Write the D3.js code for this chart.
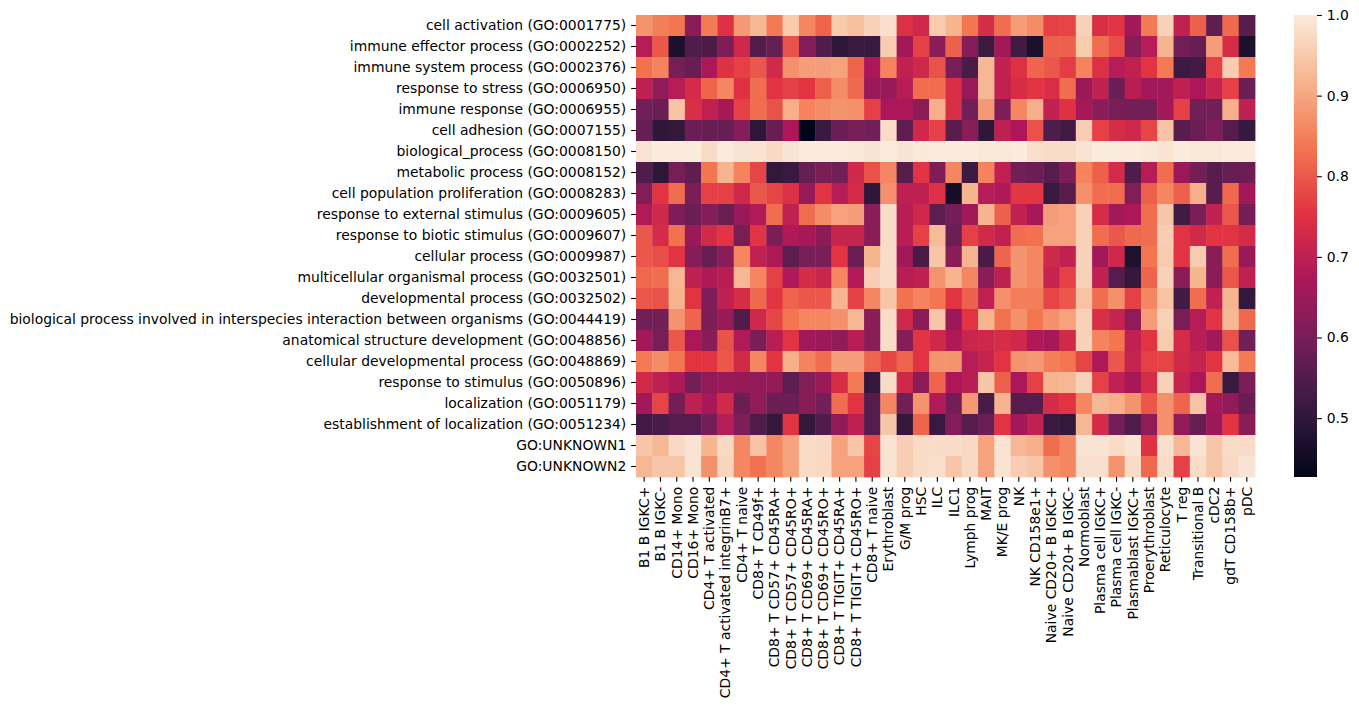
<!DOCTYPE html>
<html>
<head>
<meta charset="utf-8">
<script src="https://cdn.jsdelivr.net/npm/d3@7"></script>
<style>
  body { margin: 0; background: #fff; }
  text { font-family: "DejaVu Sans", sans-serif; font-size: 13.9px; fill: #000; }
</style>
</head>
<body>
<div id="chart"></div>
<script>
var terms = [
  "cell activation (GO:0001775)",
  "immune effector process (GO:0002252)",
  "immune system process (GO:0002376)",
  "response to stress (GO:0006950)",
  "immune response (GO:0006955)",
  "cell adhesion (GO:0007155)",
  "biological_process (GO:0008150)",
  "metabolic process (GO:0008152)",
  "cell population proliferation (GO:0008283)",
  "response to external stimulus (GO:0009605)",
  "response to biotic stimulus (GO:0009607)",
  "cellular process (GO:0009987)",
  "multicellular organismal process (GO:0032501)",
  "developmental process (GO:0032502)",
  "biological process involved in interspecies interaction between organisms (GO:0044419)",
  "anatomical structure development (GO:0048856)",
  "cellular developmental process (GO:0048869)",
  "response to stimulus (GO:0050896)",
  "localization (GO:0051179)",
  "establishment of localization (GO:0051234)",
  "GO:UNKNOWN1",
  "GO:UNKNOWN2"
];

var cellTypes = [
  "B1 B IGKC+", "B1 B IGKC-", "CD14+ Mono", "CD16+ Mono", "CD4+ T activated",
  "CD4+ T activated integrinB7+", "CD4+ T naive", "CD8+ T CD49f+",
  "CD8+ T CD57+ CD45RA+", "CD8+ T CD57+ CD45RO+", "CD8+ T CD69+ CD45RA+",
  "CD8+ T CD69+ CD45RO+", "CD8+ T TIGIT+ CD45RA+", "CD8+ T TIGIT+ CD45RO+",
  "CD8+ T naive", "Erythroblast", "G/M prog", "HSC", "ILC", "ILC1", "Lymph prog",
  "MAIT", "MK/E prog", "NK", "NK CD158e1+", "Naive CD20+ B IGKC+",
  "Naive CD20+ B IGKC-", "Normoblast", "Plasma cell IGKC+", "Plasma cell IGKC-",
  "Plasmablast IGKC+", "Proerythroblast", "Reticulocyte", "T reg",
  "Transitional B", "cDC2", "gdT CD158b+", "pDC"
];

// one array per GO term, in cellTypes order
var cellActivation = [.876,.848,.836,.625,.842,.75,.882,.923,.842,.951,.859,.814,.951,.934,.962,.984,.746,.724,.951,.918,.836,.737,.825,.888,.865,.77,.776,.962,.741,.754,.659,.842,.962,.703,.809,.568,.82,.559];
var immuneEffector = [.686,.798,.47,.546,.541,.61,.724,.55,.577,.792,.615,.546,.50,.514,.514,.956,.659,.77,.625,.809,.62,.519,.659,.523,.47,.809,.809,.951,.825,.787,.62,.686,.918,.596,.577,.888,.737,.47];
var immuneSystem = [.831,.853,.60,.577,.673,.75,.77,.798,.728,.871,.888,.888,.894,.814,.673,.853,.703,.724,.792,.60,.537,.923,.703,.746,.814,.798,.765,.853,.746,.686,.703,.754,.842,.519,.528,.77,.956,.842];
var responseStress = [.699,.635,.686,.732,.814,.859,.75,.825,.754,.77,.754,.809,.865,.82,.644,.644,.686,.825,.825,.741,.644,.923,.703,.737,.754,.741,.825,.649,.703,.582,.69,.659,.659,.699,.673,.711,.77,.582];
var immuneResponse = [.591,.582,.94,.741,.703,.664,.77,.825,.792,.912,.853,.865,.876,.871,.77,.673,.673,.625,.912,.741,.591,.882,.61,.859,.912,.703,.75,.664,.625,.60,.596,.591,.659,.77,.591,.591,.912,.699];
var cellAdhesion = [.577,.50,.505,.582,.577,.577,.62,.495,.577,.673,.427,.514,.582,.60,.591,.978,.568,.724,.77,.559,.625,.50,.699,.673,.792,.546,.523,.956,.77,.737,.724,.776,.94,.559,.582,.61,.555,.51];
var biologicalProcess = [.989,1,1,1,.978,1,.989,.989,.973,.989,1,1,1,.995,.989,1,.989,.995,1,1,1,.995,.995,1,.984,.978,.978,.989,1,1,1,.995,.989,1,.995,.995,1,1];
var metabolic = [.546,.495,.60,.568,.836,.918,.853,.776,.505,.514,.577,.605,.591,.724,.792,.859,.555,.754,.61,.859,.519,.853,.703,.591,.582,.555,.605,.853,.809,.732,.546,.686,.825,.649,.596,.559,.577,.582];
var proliferation = [.615,.754,.825,.605,.77,.77,.724,.798,.776,.746,.644,.754,.686,.732,.50,.871,.699,.699,.746,.46,.918,.686,.677,.759,.759,.514,.559,.871,.825,.825,.615,.809,.859,.809,.912,.559,.82,.659];
var externalStimulus = [.681,.724,.61,.582,.62,.582,.644,.681,.825,.703,.825,.865,.894,.888,.625,.978,.69,.724,.564,.596,.659,.918,.809,.703,.664,.888,.894,.962,.737,.659,.673,.825,.945,.523,.605,.703,.798,.596];
var bioticStimulus = [.798,.732,.831,.649,.728,.754,.60,.754,.605,.677,.664,.63,.711,.711,.625,.978,.69,.77,.929,.582,.77,.728,.703,.825,.831,.894,.894,.962,.825,.798,.82,.825,.956,.754,.728,.754,.754,.732];
var cellularProcess = [.798,.787,.754,.62,.577,.625,.859,.703,.677,.564,.60,.605,.754,.582,.918,.978,.659,.537,.945,.625,.918,.537,.814,.876,.859,.724,.703,.962,.659,.724,.475,.836,.951,.754,.951,.625,.825,.644];
var multicellular = [.82,.825,.923,.699,.677,.69,.923,.859,.77,.677,.732,.715,.859,.681,.956,.978,.69,.699,.876,.918,.859,.625,.699,.876,.859,.711,.77,.962,.703,.555,.505,.814,.962,.625,.918,.625,.798,.703];
var developmental = [.798,.792,.918,.754,.61,.699,.737,.82,.754,.814,.798,.798,.918,.77,.859,.945,.831,.853,.836,.754,.809,.703,.871,.848,.848,.776,.798,.94,.825,.871,.77,.859,.94,.528,.825,.703,.918,.505];
var interspecies = [.591,.591,.876,.814,.605,.644,.546,.724,.776,.836,.859,.859,.871,.923,.625,.978,.724,.625,.945,.649,.754,.918,.831,.871,.836,.871,.894,.962,.741,.711,.635,.888,.962,.60,.686,.754,.923,.82];
var anatomical = [.659,.60,.798,.673,.62,.792,.681,.605,.69,.754,.659,.649,.635,.69,.625,.978,.62,.754,.724,.677,.715,.724,.737,.724,.677,.664,.728,.962,.853,.836,.703,.754,.951,.732,.69,.659,.792,.591];
var cellularDevelopmental = [.842,.865,.836,.754,.754,.798,.728,.859,.754,.912,.853,.825,.888,.888,.814,.776,.814,.754,.876,.876,.686,.711,.754,.876,.882,.848,.836,.776,.677,.798,.711,.77,.776,.728,.711,.754,.929,.842];
var responseStimulus = [.728,.699,.677,.596,.635,.649,.64,.635,.64,.564,.615,.649,.737,.842,.505,.978,.724,.625,.814,.673,.69,.945,.809,.673,.77,.918,.923,.962,.77,.703,.664,.737,.962,.711,.673,.825,.514,.605];
var localization = [.659,.776,.596,.699,.664,.728,.582,.635,.582,.582,.62,.596,.825,.754,.555,.859,.591,.876,.681,.596,.882,.537,.918,.555,.555,.732,.754,.859,.923,.912,.876,.798,.871,.814,.94,.659,.635,.577];
var establishment = [.528,.537,.555,.555,.596,.686,.61,.546,.505,.754,.505,.546,.635,.699,.555,.945,.505,.814,.514,.615,.555,.582,.754,.659,.703,.514,.505,.923,.732,.596,.546,.635,.871,.635,.577,.649,.754,.625];
var unknown1 = [.945,.923,.973,.989,.918,.973,.859,.94,.859,.894,.978,.973,.894,.945,.776,.989,.956,.978,.978,.978,.973,.894,.989,.923,.912,.825,.859,.989,.989,.978,.989,.75,.984,.923,.989,.945,.978,.978];
var unknown2 = [.923,.945,.945,.989,.871,.967,.859,.831,.859,.894,.978,.973,.894,.894,.77,.989,.956,.978,.984,.945,.973,.894,.989,.956,.945,.871,.859,.984,.984,.876,.978,.82,.978,.77,.978,.945,.973,.989];

var values = [cellActivation, immuneEffector, immuneSystem, responseStress, immuneResponse,
  cellAdhesion, biologicalProcess, metabolic, proliferation, externalStimulus, bioticStimulus,
  cellularProcess, multicellular, developmental, interspecies, anatomical, cellularDevelopmental,
  responseStimulus, localization, establishment, unknown1, unknown2];

var colorbarTicks = [0.5, 0.6, 0.7, 0.8, 0.9, 1.0];

// seaborn "rocket", evenly spaced samples
var rocket = ["#03051a", "#35193e", "#701f57", "#ad1759", "#e13342", "#f37651", "#f6b48f", "#faebdd"];

var W = 1359, H = 708;
var tick = 4.86, pad = 4.86;

var svg = d3.select("#chart").append("svg")
  .attr("width", W)
  .attr("height", H);

var x = d3.scaleBand().domain(cellTypes).range([636, 1255]);
var y = d3.scaleBand().domain(terms).range([15, 477]);

var vmin = d3.min(values, function(r) { return d3.min(r); });
var vmax = d3.max(values, function(r) { return d3.max(r); });

var color = d3.scaleLinear()
  .domain(rocket.map(function(c, i) { return vmin + (vmax - vmin) * i / (rocket.length - 1); }))
  .range(rocket)
  .interpolate(d3.interpolateRgb)
  .clamp(true);

/* ---------- cells ---------- */
var cells = [];
values.forEach(function(row, i) {
  row.forEach(function(v, j) {
    cells.push({ term: terms[i], cell: cellTypes[j], v: v });
  });
});

svg.append("g").attr("id", "cells")
  .selectAll("rect")
  .data(cells)
  .enter().append("rect")
  .attr("x", function(d) { return x(d.cell); })
  .attr("y", function(d) { return y(d.term); })
  .attr("width", x.bandwidth() + 0.4)
  .attr("height", y.bandwidth() + 0.4)
  .attr("fill", function(d) { return color(d.v); });

/* ---------- axes ---------- */
var yAxis = svg.append("g")
  .attr("transform", "translate(636,0)")
  .call(d3.axisLeft(y).tickSize(tick).tickPadding(pad));
yAxis.select(".domain").remove();
yAxis.selectAll("line").attr("stroke", "#000").attr("stroke-width", 1.1);
yAxis.selectAll("text").attr("font-size", null).attr("font-family", null);

var xAxis = svg.append("g")
  .attr("transform", "translate(0,477)")
  .call(d3.axisBottom(x).tickSize(tick).tickPadding(pad));
xAxis.select(".domain").remove();
xAxis.selectAll("line").attr("stroke", "#000").attr("stroke-width", 1.1);
xAxis.selectAll("text")
  .attr("font-size", null).attr("font-family", null)
  .attr("y", 0)
  .attr("x", -(tick + pad))
  .attr("dy", "0.35em")
  .attr("transform", "rotate(-90)")
  .style("text-anchor", "end");

/* ---------- colorbar ---------- */
var cbX = 1294, cbW = 23;
var cbScale = d3.scaleLinear().domain([vmin, vmax]).range([477, 15]);

var grad = svg.append("defs").append("linearGradient")
  .attr("id", "cbGrad")
  .attr("x1", 0).attr("y1", 1).attr("x2", 0).attr("y2", 0);
d3.range(0, 1.0001, 0.02).forEach(function(t) {
  grad.append("stop")
    .attr("offset", t)
    .attr("stop-color", color(vmin + t * (vmax - vmin)));
});

svg.append("rect")
  .attr("x", cbX).attr("y", 15)
  .attr("width", cbW).attr("height", 462)
  .attr("fill", "url(#cbGrad)");

var cbAxis = svg.append("g")
  .attr("transform", "translate(" + (cbX + cbW) + ",0)")
  .call(d3.axisRight(cbScale).tickValues(colorbarTicks).tickFormat(d3.format(".1f"))
    .tickSize(tick).tickPadding(pad));
cbAxis.select(".domain").remove();
cbAxis.selectAll("line").attr("stroke", "#000").attr("stroke-width", 1.1);
cbAxis.selectAll("text").attr("font-size", null).attr("font-family", null);
</script>
</body>
</html>
